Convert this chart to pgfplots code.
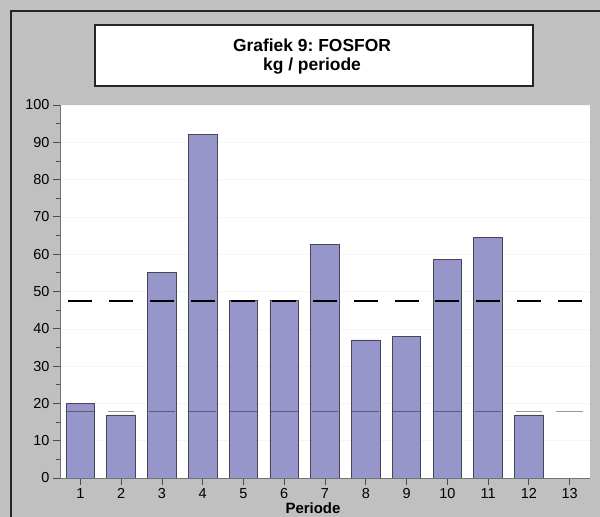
\documentclass[border=0pt]{standalone}
\usepackage{fontspec}
\setmainfont{Liberation Sans}
\usepackage{pgfplots}
\pgfplotsset{compat=1.18}
\definecolor{bg}{RGB}{192,192,192}
\definecolor{barfill}{RGB}{150,150,202}
\definecolor{baredge}{RGB}{70,70,85}
\frenchspacing
\begin{document}
\begin{tikzpicture}[x=1bp,y=1bp]
\useasboundingbox (0,0) rectangle (600,517);
\fill[bg] (0,0) rectangle (600,517);
\draw[line width=2bp, black!85] (11,0) -- (11,506) -- (600,506);
% title box
\draw[line width=1.2bp, black!85, fill=white] (95,431) rectangle (533,492);
\node[align=center, font=\fontsize{17.5}{19}\selectfont\bfseries] at (312,460.5) {Grafiek 9: FOSFOR\\kg / periode};
\begin{axis}[
  at={(60bp,39bp)}, anchor=south west, scale only axis,
  width=530bp, height=373bp,
  xmin=0.5, xmax=13.5, ymin=0, ymax=100,
  axis x line*=bottom, axis y line*=left,
  axis line style={black!55, line width=0.8bp},
  axis background/.style={fill=white},
  xtick={1,...,13}, ytick={0,10,...,100}, minor y tick num=1,
  tick align=outside, major tick length=7bp, minor tick length=4bp,
  tick style={black!70, line width=0.8bp},
  ymajorgrids, major grid style={black!4},
  ticklabel style={font=\fontsize{14.5}{16}\selectfont},
  /pgf/number format/assume math mode=true,
]
\addplot[ybar, bar width=0.7, bar shift=0pt, fill=barfill, draw=baredge, line width=0.8bp]
  coordinates {(1,20) (2,16.9) (3,55.2) (4,92.2) (5,47.5) (6,47.5) (7,62.6)
               (8,37) (9,38) (10,58.7) (11,64.5) (12,16.9)};
% thin reference line
\addplot[only marks, mark=-, mark size=13.3bp,
  mark options={draw=black, draw opacity=0.4, line width=0.9bp}]
  coordinates {(1,17.9) (2,17.9) (3,17.9) (4,17.9) (5,17.9) (6,17.9) (7,17.9)
               (8,17.9) (9,17.9) (10,17.9) (11,17.9) (12,17.9) (13,17.9)};
% dashed limit
\addplot[only marks, mark=-, mark size=12bp,
  mark options={draw=black, line width=2.6bp}]
  coordinates {(1,47.5) (2,47.5) (3,47.5) (4,47.5) (5,47.5) (6,47.5) (7,47.5)
               (8,47.5) (9,47.5) (10,47.5) (11,47.5) (12,47.5) (13,47.5)};
\end{axis}
\node[font=\fontsize{15}{17}\selectfont\bfseries] at (313,9) {Periode};
\end{tikzpicture}
\end{document}
